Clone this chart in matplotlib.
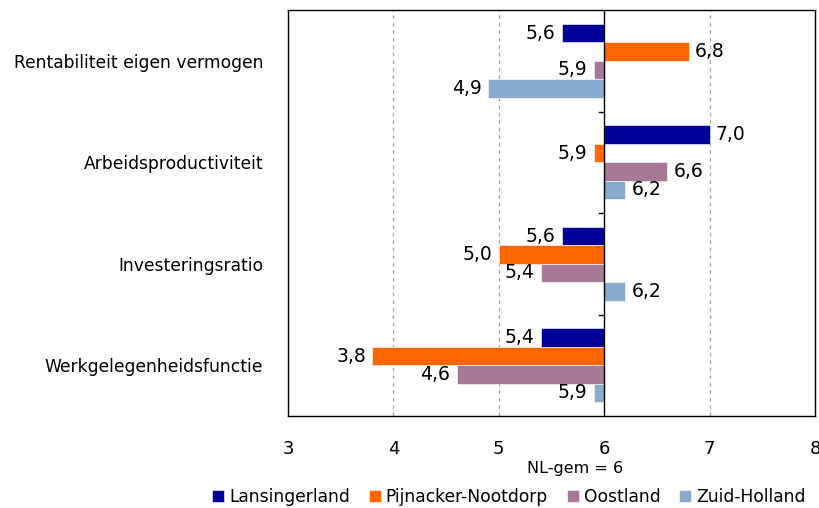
import matplotlib
matplotlib.use("Agg")
import matplotlib.pyplot as plt
import numpy as np

CATEGORIES = [
    "Rentabiliteit eigen vermogen",
    "Arbeidsproductiviteit",
    "Investeringsratio",
    "Werkgelegenheidsfunctie",
]
SERIES_NAMES = ["Lansingerland", "Pijnacker-Nootdorp", "Oostland", "Zuid-Holland"]
LANSINGERLAND = [5.6, 7.0, 5.6, 5.4]
PIJNACKER = [6.8, 5.9, 5.0, 3.8]
OOSTLAND = [5.9, 6.6, 5.4, 4.6]
ZUID_HOLLAND = [4.9, 6.2, 6.2, 5.9]
NL_AVERAGE = 6
X_TICKS = [3, 4, 5, 6, 7, 8]

COLORS = ["#000099", "#FF6600", "#A97797", "#88AACC"]
FONT = "DejaVu Sans"

plt.rcParams["font.family"] = FONT

fig = plt.figure(figsize=(8.19, 5.08), dpi=100)
ax = fig.add_axes([288 / 819, 1 - 416 / 508, 527 / 819, 406 / 508])

series = [LANSINGERLAND, PIJNACKER, OOSTLAND, ZUID_HOLLAND]
bar_height = 0.182
positions = np.arange(len(CATEGORIES))

for idx, (name, values, color) in enumerate(zip(SERIES_NAMES, series, COLORS)):
    offset = (idx - 1.5) * bar_height
    widths = [v - NL_AVERAGE for v in values]
    ax.barh(positions + offset, widths, height=bar_height, left=NL_AVERAGE,
            color=color, edgecolor="white", linewidth=0.4, label=name)
    for pos, val in zip(positions, values):
        label = f"{val:.1f}".replace(".", ",")
        if val < NL_AVERAGE:
            ax.text(val - 0.06, pos + offset, label, ha="right", va="center", fontsize=13.5)
        else:
            ax.text(val + 0.06, pos + offset, label, ha="left", va="center", fontsize=13.5)

ax.set_xlim(3, 8)
ax.set_ylim(len(CATEGORIES) - 0.5, -0.5)
ax.set_xticks(X_TICKS)
ax.set_xticklabels([str(t) for t in X_TICKS], fontsize=13)
ax.tick_params(axis="x", length=0, pad=17)
ax.set_yticks(positions)
ax.set_yticklabels(CATEGORIES, fontsize=12.3)
ax.tick_params(axis="y", length=0, pad=18)

for t in X_TICKS:
    if t != NL_AVERAGE:
        ax.axvline(t, color="#A0A0A0", linestyle=(0, (3, 3)), linewidth=0.9, zorder=0)
ax.axvline(NL_AVERAGE, color="black", linewidth=1.0, zorder=3)

# small category ticks on the category axis at x = 6
for b in positions[:-1] + 0.5:
    ax.plot([NL_AVERAGE - 0.045, NL_AVERAGE], [b, b], color="black", linewidth=1.0,
            zorder=3, clip_on=False)

for spine in ax.spines.values():
    spine.set_color("black")
    spine.set_linewidth(1.0)

fig.text(575 / 819, 1 - 468 / 508, "NL-gem = 6", ha="center", va="center", fontsize=11.5)

handles, labels = ax.get_legend_handles_labels()
fig.legend(handles, labels, loc="center", bbox_to_anchor=(509 / 819, 1 - 497 / 508),
           ncol=4, frameon=False, fontsize=12.3, handlelength=0.7, handleheight=0.7,
           handletextpad=0.3, columnspacing=1.1, borderaxespad=0)

fig.savefig("out.png", dpi=100)
